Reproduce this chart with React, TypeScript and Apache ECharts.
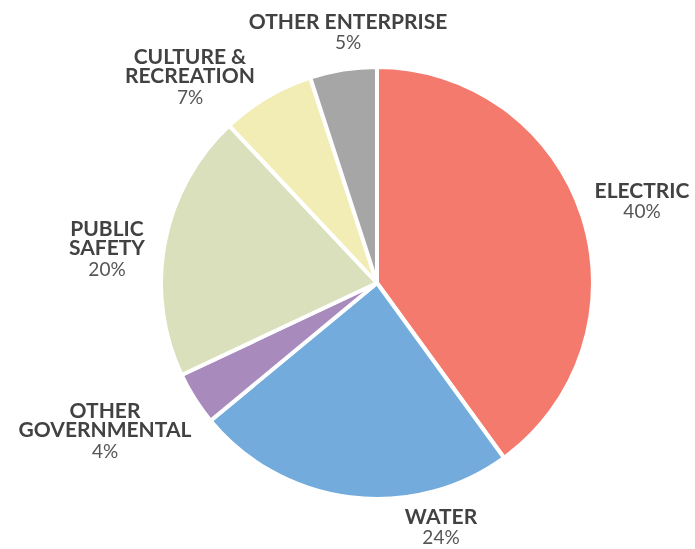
import React, { useEffect, useRef } from "react";
import * as echarts from "echarts";

const categories = ["Electric", "Water", "Other Governmental", "Public Safety", "Culture & Recreation", "Other Enterprise"];
const labelLines = [["ELECTRIC"], ["WATER"], ["OTHER", "GOVERNMENTAL"], ["PUBLIC", "SAFETY"], ["CULTURE &", "RECREATION"], ["OTHER ENTERPRISE"]];
const values = [40, 24, 4, 20, 7, 5];
const colors = ["#F47A6E", "#72ABDC", "#A88ABD", "#D9E0BB", "#F2EDB5", "#A6A6A6"];

// label anchor points (label placement only)
const labelPos = [
  [642, 201],
  [441, 527],
  [105, 431],
  [107, 249],
  [190, 77],
  [348, 32],
];

export default function App() {
  const ref = useRef<HTMLDivElement>(null);
  useEffect(() => {
    const chart = echarts.init(ref.current!, null, { renderer: "svg" });
    chart.setOption({
      animation: false,
      series: [
        {
          type: "pie",
          center: [377, 283],
          radius: [0, 216],
          startAngle: 90,
          clockwise: true,
          itemStyle: { borderColor: "#ffffff", borderWidth: 4 },
          labelLine: { show: false },
          label: {
            show: true,
            position: "outside",
            align: "center",
            overflow: "none",
            width: 300,
            formatter: (p: any) => {
              const lines = labelLines[p.dataIndex].map((l) => `{n|${l}}`).join("\n");
              return `${lines}\n{p|${p.value}%}`;
            },
            rich: {
              n: { fontFamily: "Lato", fontWeight: "bold", fontSize: 21, color: "#424242", lineHeight: 19, align: "center" },
              p: { fontFamily: "Lato", fontSize: 19, color: "#555555", lineHeight: 24, align: "center" },
            },
          },
          labelLayout: (params: any) => ({
            x: labelPos[params.dataIndex][0],
            y: labelPos[params.dataIndex][1],
            align: "center",
            verticalAlign: "middle",
          }),
          data: categories.map((c, i) => ({ name: c, value: values[i], itemStyle: { color: colors[i] } })),
        },
      ],
    });
    return () => chart.dispose();
  }, []);
  return <div ref={ref} style={{ position: "fixed", left: 0, top: 0, width: 695, height: 549 }} />;
}
